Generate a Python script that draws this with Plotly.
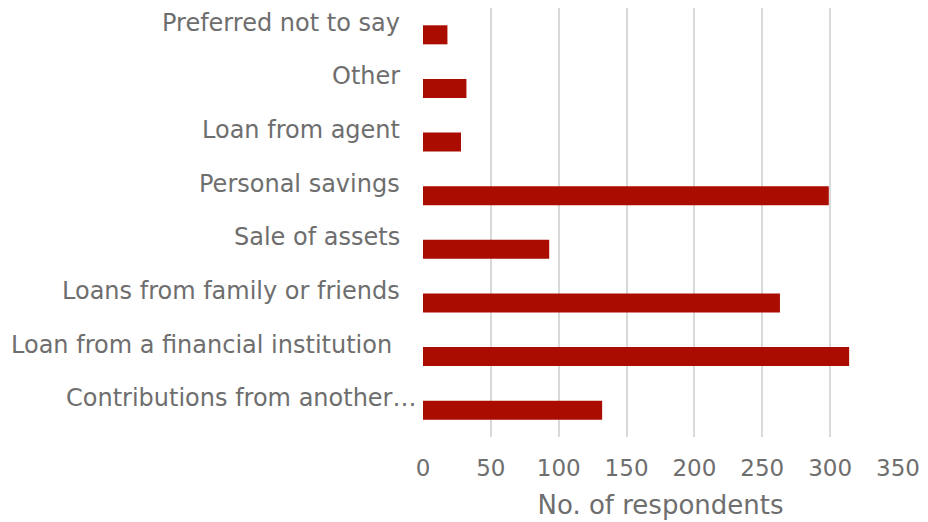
import plotly.graph_objects as go

# Sources of funding, listed bottom to top
categories = [
    "Contributions from another\u2026",
    "Loan from a financial institution\u00a0",
    "Loans from family or friends",
    "Sale of assets",
    "Personal savings",
    "Loan from agent",
    "Other",
    "Preferred not to say",
]
respondents = [132, 314, 263, 93, 299, 28, 32, 18]
x_ticks = [0, 50, 100, 150, 200, 250, 300, 350]
x_title = "No. of respondents"

FONT = "DejaVu Sans"
TEXT_GRAY = "#6E6E6E"
BAR_RED = "#AA0C00"
GRID_GRAY = "#D9D9D9"

fig = go.Figure(
    go.Bar(
        x=respondents,
        y=categories,
        orientation="h",
        marker=dict(color=BAR_RED, line=dict(width=0)),
        hoverinfo="x+y",
    )
)

# Category labels sit a little above the centre of each bar
for cat in categories:
    overflow = cat.endswith("\u2026")
    fig.add_annotation(
        x=0, xref="paper", xanchor="right",
        y=cat, yref="y", yshift=12,
        xshift=-5 if overflow else -21,
        text=cat, showarrow=False,
        font=dict(family=FONT, size=24, color=TEXT_GRAY),
    )

fig.update_layout(
    width=928, height=522,
    margin=dict(l=423, r=23, t=8, b=85),
    plot_bgcolor="white", paper_bgcolor="white",
    bargap=0.645,
    showlegend=False,
    font=dict(family=FONT, color=TEXT_GRAY),
    xaxis=dict(
        range=[0, 350], tickvals=x_ticks,
        showgrid=True, gridcolor=GRID_GRAY, gridwidth=2,
        zeroline=False, showline=False, ticks="",
        ticklabelstandoff=15,
        tickfont=dict(size=23, color=TEXT_GRAY),
        title=dict(text=x_title, font=dict(size=26, color=TEXT_GRAY), standoff=15),
    ),
    yaxis=dict(
        categoryorder="array", categoryarray=categories,
        showticklabels=False, showgrid=False, zeroline=False,
        range=[-0.5, len(categories) - 0.5],
    ),
)

fig.write_html("out.html")
